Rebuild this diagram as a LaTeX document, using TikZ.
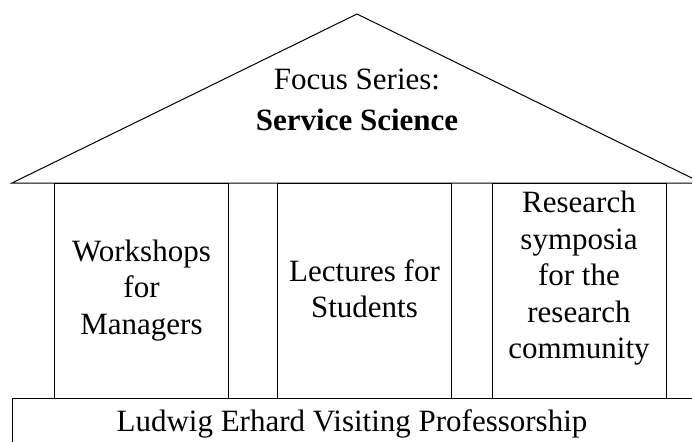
\documentclass[tikz,border=0pt]{standalone}
\usepackage{fontspec}
\setmainfont{Liberation Serif}
\usetikzlibrary{positioning}

\tikzset{
    pillar/.style={draw, minimum width=174pt, minimum height=215pt, inner sep=0pt},
    words/.style={align=center, inner sep=0pt},
    label/.style={anchor=base, inner sep=0pt}
}

\begin{document}
\begin{tikzpicture}[x=1pt, y=-1pt, line width=1pt, font=\fontsize{31}{36.5}\selectfont]
    \useasboundingbox (0, 0) rectangle (692, 441);
    \clip (0, 0) rectangle (692, 441);
    % roof
    \coordinate (apex) at (357, 14);
    \coordinate (eavel) at (12, 183);
    \coordinate (eaver) at (702, 183);
    \draw (eavel) -- (apex) -- (eaver) -- cycle;
    \node[label] (focus) at (357, 90) {Focus Series:};
    \node[label] (service) at (357, 130) {\textbf{Service Science}};
    % pillars
    \node[pillar] (workshops) at (141.5, 290.5) {};
    \node[pillar] (lectures) at (364.5, 290.5) {};
    \node[pillar] (symposia) at (579, 290.5) {};
    \node[words] (workshopstext) at (workshops.center) {Workshops\\for\\Managers};
    \node[words] (lecturestext) at ([yshift=2pt]lectures.center) {Lectures for\\Students};
    \node[words] (symposiatext) at ([yshift=12pt]symposia.center) {Research\\symposia\\for the\\research\\community};
    % base
    \draw (12, 398) rectangle (720, 470);
    \node[label] (visiting) at (352, 431) {Ludwig Erhard Visiting Professorship};
\end{tikzpicture}
\end{document}
